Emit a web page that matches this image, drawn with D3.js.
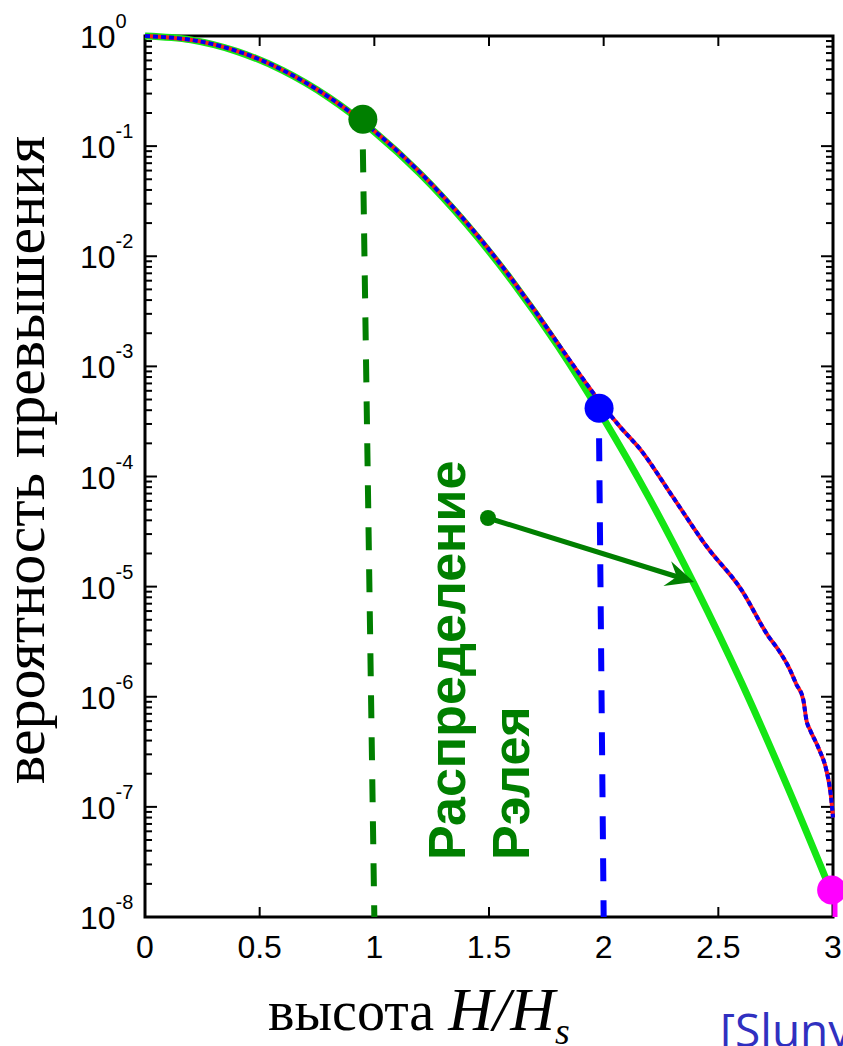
<!DOCTYPE html>
<html>
<head>
<meta charset="utf-8">
<script src="https://cdn.jsdelivr.net/npm/d3@7"></script>
<style>
  html, body { margin: 0; padding: 0; background: #fff; }
  svg { display: block; }
</style>
</head>
<body>
<svg id="chart" width="843" height="1046"></svg>
<script>
// ── Data ──────────────────────────────────────────────────────────────────────
// Rayleigh exceedance curve, H/Hs vs probability
const rayleighH = [0, 0.2, 0.4, 0.6, 0.8, 1.0, 1.2, 1.4, 1.6, 1.8, 2.0, 2.2, 2.4, 2.6, 2.8, 2.97];
const rayleighP = [1, 0.923, 0.726, 0.487, 0.278, 0.135, 0.0561, 0.0198, 5.98e-3, 1.54e-3,
                   3.35e-4, 6.3e-5, 1.0e-5, 1.36e-6, 1.55e-7, 2.2e-8];

// measured exceedance (red / blue dashed line)
const measH = [0, 0.25, 0.5, 0.75, 1.0, 1.25, 1.5, 1.7, 1.85, 2.0, 2.07, 2.16, 2.3, 2.45,
               2.6, 2.72, 2.76, 2.81, 2.84, 2.87, 2.885, 2.9, 2.94, 2.97, 2.99, 3.0];
const measP = [1, 0.885, 0.612, 0.327, 0.137, 0.045, 0.0115, 3.2e-3, 1.15e-3, 4.3e-4, 2.85e-4,
               1.76e-4, 6.6e-5, 2.3e-5, 9.4e-6, 3.5e-6, 2.7e-6, 1.8e-6, 1.3e-6, 9.5e-7,
               6.0e-7, 5.0e-7, 3.3e-7, 2.2e-7, 1.3e-7, 8.0e-8];

// marked points and where their dashed drop lines land on the axis
const markH     = [0.95, 1.98, 2.994];
const markP     = [0.175, 4.17e-4, 1.76e-8];
const markFoot  = [1, 2, 3];
const markColor = ['#007f00', '#0000ff', '#ff00ff'];

const xTicks = [0, 0.5, 1, 1.5, 2, 2.5, 3];
const xTickLabels = ['0', '0.5', '1', '1.5', '2', '2.5', '3'];
const yDecades = [0, -1, -2, -3, -4, -5, -6, -7, -8];

// ── Layout ────────────────────────────────────────────────────────────────────
const PLOT_LEFT = 145, PLOT_RIGHT = 833, PLOT_TOP = 36, PLOT_BOTTOM = 917;
const MAJOR_TICK = 12, MINOR_TICK = 7;

const svg = d3.select('#chart');
const x = d3.scaleLinear().domain([0, 3]).range([PLOT_LEFT, PLOT_RIGHT]);
const y = d3.scaleLog().domain([1e-8, 1]).range([PLOT_BOTTOM, PLOT_TOP]);

// ── Ticks ─────────────────────────────────────────────────────────────────────
const minorVals = [];
yDecades.forEach(e => {
  if (e === 0) return;
  for (let m = 2; m <= 9; m++) minorVals.push(m * Math.pow(10, e));
});

const tickG = svg.append('g').attr('stroke', '#000').attr('stroke-width', 2);
[PLOT_LEFT, PLOT_RIGHT].forEach((sx, i) => {
  const dir = i === 0 ? 1 : -1;
  yDecades.forEach(e => {
    const yy = y(Math.pow(10, e));
    tickG.append('line').attr('x1', sx).attr('x2', sx + dir * MAJOR_TICK).attr('y1', yy).attr('y2', yy);
  });
  minorVals.forEach(v => {
    const yy = y(v);
    tickG.append('line').attr('x1', sx).attr('x2', sx + dir * MINOR_TICK).attr('y1', yy).attr('y2', yy);
  });
});
xTicks.forEach(t => {
  const xx = x(t);
  tickG.append('line').attr('x1', xx).attr('x2', xx).attr('y1', PLOT_BOTTOM).attr('y2', PLOT_BOTTOM - 10);
  tickG.append('line').attr('x1', xx).attr('x2', xx).attr('y1', PLOT_TOP).attr('y2', PLOT_TOP + 10);
});

// frame
svg.append('rect')
  .attr('x', PLOT_LEFT).attr('y', PLOT_TOP)
  .attr('width', PLOT_RIGHT - PLOT_LEFT).attr('height', PLOT_BOTTOM - PLOT_TOP)
  .attr('fill', 'none').attr('stroke', '#000').attr('stroke-width', 3);

// tick labels
const tickFont = "'Liberation Sans', Arial, Helvetica, sans-serif";
svg.append('g').selectAll('text').data(xTicks).join('text')
  .attr('x', d => x(d)).attr('y', 958)
  .attr('text-anchor', 'middle')
  .attr('font-family', tickFont).attr('font-size', 32)
  .text((d, i) => xTickLabels[i]);

const yLab = svg.append('g').selectAll('text').data(yDecades).join('text')
  .attr('x', 80).attr('y', d => y(Math.pow(10, d)) + 12)
  .attr('font-family', tickFont).attr('font-size', 32);
yLab.append('tspan').text('10');
yLab.append('tspan').attr('font-size', 20).attr('dy', -20).text(d => String(d));

// ── Curves ────────────────────────────────────────────────────────────────────
const line = d3.line().x(d => x(d[0])).y(d => y(d[1])).curve(d3.curveMonotoneX);
const rayleighData = rayleighH.map((h, i) => [h, rayleighP[i]]);
const measData = measH.map((h, i) => [h, measP[i]]);

svg.append('path').datum(rayleighData).attr('d', line)
  .attr('fill', 'none').attr('stroke', '#14e614').attr('stroke-width', 7);

svg.append('path').datum(measData).attr('d', line)
  .attr('fill', 'none').attr('stroke', '#ff1a1a').attr('stroke-width', 4);
svg.append('path').datum(measData).attr('d', line)
  .attr('fill', 'none').attr('stroke', '#0000ee').attr('stroke-width', 4)
  .attr('stroke-dasharray', '5,3');

// ── Marked points with drop lines ─────────────────────────────────────────────
markH.forEach((h, i) => {
  const cx = x(h), cy = y(markP[i]);
  if (i < 2) {
    svg.append('line')
      .attr('x1', cx).attr('y1', cy + 30)
      .attr('x2', x(markFoot[i])).attr('y2', PLOT_BOTTOM)
      .attr('stroke', markColor[i]).attr('stroke-width', 6)
      .attr('stroke-dasharray', '23,19');
  } else {
    svg.append('line')
      .attr('x1', x(markFoot[i]) + 2).attr('y1', cy)
      .attr('x2', x(markFoot[i]) + 2).attr('y2', PLOT_BOTTOM)
      .attr('stroke', markColor[i]).attr('stroke-width', 5);
  }
  svg.append('circle').attr('cx', cx).attr('cy', cy).attr('r', 14.5).attr('fill', markColor[i]);
});

// ── Annotation: Rayleigh label and arrow ──────────────────────────────────────
const annColor = '#007f00';
svg.append('text')
  .attr('transform', 'translate(465,860) rotate(-90)')
  .attr('font-family', tickFont).attr('font-weight', 'bold').attr('font-size', 52)
  .attr('fill', annColor).text('Распределение');
svg.append('text')
  .attr('transform', 'translate(529,860) rotate(-90)')
  .attr('font-family', tickFont).attr('font-weight', 'bold').attr('font-size', 52)
  .attr('fill', annColor).text('Рэлея');

const a0 = [488, 518], a1 = [694, 582];
const ux = (a1[0] - a0[0]), uy = (a1[1] - a0[1]);
const len = Math.hypot(ux, uy);
const u = [ux / len, uy / len], n = [-u[1], u[0]];
svg.append('circle').attr('cx', a0[0]).attr('cy', a0[1]).attr('r', 8).attr('fill', annColor);
svg.append('line')
  .attr('x1', a0[0]).attr('y1', a0[1])
  .attr('x2', a1[0] - u[0] * 16).attr('y2', a1[1] - u[1] * 16)
  .attr('stroke', annColor).attr('stroke-width', 5);
const HEAD_L = 28, HEAD_W = 13, NOTCH = 18;
const head = [
  a1,
  [a1[0] - u[0] * HEAD_L + n[0] * HEAD_W, a1[1] - u[1] * HEAD_L + n[1] * HEAD_W],
  [a1[0] - u[0] * NOTCH, a1[1] - u[1] * NOTCH],
  [a1[0] - u[0] * HEAD_L - n[0] * HEAD_W, a1[1] - u[1] * HEAD_L - n[1] * HEAD_W],
];
svg.append('path').attr('d', 'M' + head.map(p => p.join(',')).join('L') + 'Z').attr('fill', annColor);

// ── Axis titles ───────────────────────────────────────────────────────────────
const serif = "'Liberation Serif', 'Times New Roman', serif";
svg.append('text')
  .attr('transform', 'translate(44,460) rotate(-90)')
  .attr('text-anchor', 'middle')
  .attr('font-family', serif).attr('font-size', 60)
  .text('вероятность превышения');

const xt = svg.append('text')
  .attr('x', 268).attr('y', 1030)
  .attr('font-family', serif).attr('font-size', 56);
xt.append('tspan').text('высота ');
xt.append('tspan').attr('font-style', 'italic').attr('font-size', 62).text('H/H');
xt.append('tspan').attr('font-style', 'italic').attr('font-size', 38).attr('dy', 14).text('s');

svg.append('text')
  .attr('x', 720).attr('y', 1047)
  .attr('font-family', "'Open Sans', sans-serif").attr('font-size', 46)
  .attr('fill', '#3030c0')
  .text('[Slunyaev et al.]');
</script>
</body>
</html>
